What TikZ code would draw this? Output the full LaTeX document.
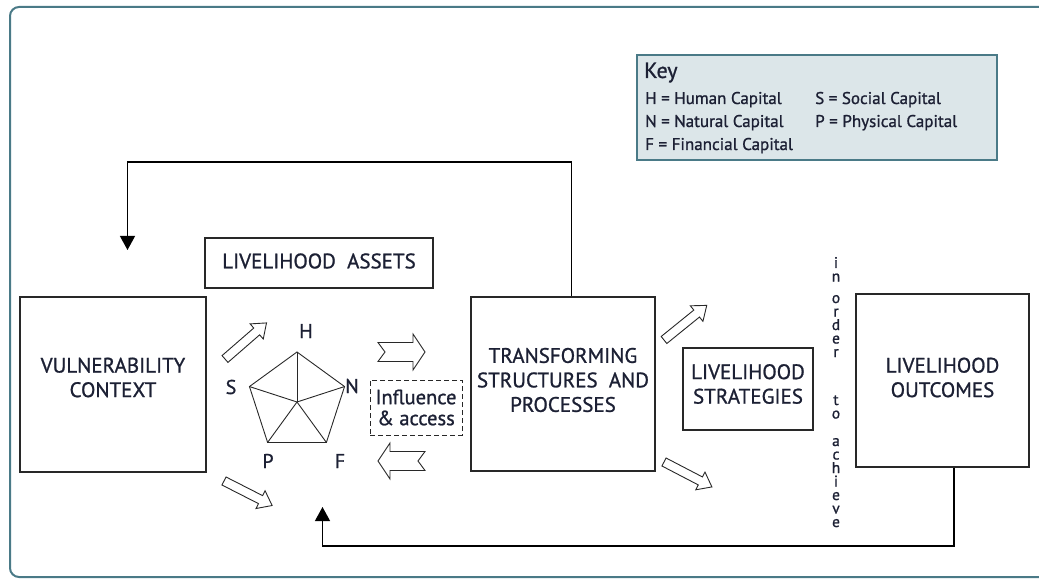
\documentclass[tikz,border=0pt]{standalone}
\usepackage{fontspec}
\setmainfont{PT Sans}[FakeBold=1.0]
\usetikzlibrary{arrows.meta,shapes.geometric}
\definecolor{frameteal}{RGB}{74,122,135}
\definecolor{keyfill}{RGB}{220,230,233}
\definecolor{ink}{RGB}{28,32,52}
\definecolor{lineink}{RGB}{40,40,40}
\newcommand{\boxfont}{\fontsize{21}{24.5}\selectfont}
\newcommand{\keyfont}{\fontsize{17}{23}\selectfont}
% hollow block arrow: tail point, angle, length
\newcommand{\hollowarrow}[3]{%
  \draw[hollow, shift={(#1)}, rotate=#2] (0,-4.5) -- (#3-13,-4.5) -- (#3-13,-10) -- (#3,0)
    -- (#3-13,10) -- (#3-13,4.5) -- (0,4.5) -- cycle;}
% block arrow with notched tail: tail point, angle
\newcommand{\notcharrow}[2]{%
  \draw[hollow, shift={(#1)}, rotate=#2] (0,-9.5) -- (35,-9.5) -- (35,-18) -- (47,0)
    -- (35,18) -- (35,9.5) -- (0,9.5) -- (7,0) -- cycle;}
\begin{document}
\begin{tikzpicture}[x=1pt, y=-1pt, >={Triangle[length=14pt,width=15pt]},
  box/.style={draw=lineink, line width=1.2pt, inner sep=0pt},
  boxlabel/.style={align=center, text=ink, font=\boxfont, inner sep=0pt},
  dashbox/.style={draw=lineink, dash pattern=on 5pt off 3pt, line width=1pt, align=center, text=ink,
    font=\fontsize{20.5}{21}\selectfont, inner sep=0pt},
  feed/.style={draw=black, line width=1.2pt},
  hollow/.style={draw=lineink, line width=0.9pt, fill=white, line join=miter},
  capital/.style={text=ink, font=\fontsize{20}{24}\selectfont, inner sep=0pt},
  keytext/.style={anchor=base west, text=ink, font=\keyfont, inner sep=0pt},
  vletter/.style={anchor=base, text=ink, font=\fontsize{15.5}{15}\selectfont, inner sep=0pt},
  pentagon/.style={regular polygon, regular polygon sides=5, minimum size=100pt,
    inner sep=0pt, outer sep=0pt, draw=lineink, line width=0.9pt}]
\useasboundingbox (0,0) rectangle (1039,580);
\clip (0,0) rectangle (1039,580);
% outer frame
\draw[frameteal, line width=2pt, rounded corners=9pt] (10,7) rectangle (1080,577);
% key
\node[draw=frameteal, fill=keyfill, line width=1.3pt, minimum width=360pt, minimum height=105pt] (keybox) at (817,107.5) {};
\node[keytext, font=\fontsize{22}{24}\selectfont] (keytitle) at (644,78) {Key};
\node[keytext] (keyH) at (645,104) {H = Human Capital};
\node[keytext] (keyN) at (645,127) {N = Natural Capital};
\node[keytext] (keyF) at (645,150) {F = Financial Capital};
\node[keytext] (keyS) at (815,104) {S = Social Capital};
\node[keytext] (keyP) at (815,127) {P = Physical Capital};
% main boxes
\node[box, minimum width=186pt, minimum height=175pt] (vuln) at (113,384.5) {};
\node[boxlabel] (vulnlabel) at ([yshift=7pt]vuln.center) {VULNERABILITY\\CONTEXT};
\node[box, minimum width=228pt, minimum height=50pt] (assets) at (319,263) {};
\node[boxlabel] (assetslabel) at ([yshift=2pt]assets.center) {LIVELIHOOD\ \ ASSETS};
\node[box, minimum width=184pt, minimum height=174pt] (trans) at (563,384) {};
\node[boxlabel] (translabel) at ([yshift=4pt]trans.center) {TRANSFORMING\\STRUCTURES\ \ AND\\PROCESSES};
\node[box, minimum width=130pt, minimum height=82pt] (strat) at (748,389) {};
\node[boxlabel] (stratlabel) at ([yshift=5pt]strat.center) {LIVELIHOOD\\STRATEGIES};
\node[box, minimum width=173pt, minimum height=173pt] (outc) at (942.5,380.5) {};
\node[boxlabel] (outclabel) at ([yshift=3pt]outc.center) {LIVELIHOOD\\OUTCOMES};
\node[dashbox, minimum width=92pt, minimum height=55pt] (infl) at (416,407.5) {Influence\\\&\ access};
% asset pentagon
\node[pentagon] (penta) at (297,402) {};
\foreach \c in {1,...,5}
  \draw[lineink, line width=0.9pt] (penta.center) -- (penta.corner \c);
\node[capital] (capH) at (306,331) {H};
\node[capital] (capS) at (231,387) {S};
\node[capital] (capN) at (352,386) {N};
\node[capital] (capP) at (268,461) {P};
\node[capital] (capF) at (340,461) {F};
% block arrows
\hollowarrow{225,359}{41}{55}
\hollowarrow{224,481}{-27}{54}
\hollowarrow{664,340}{39}{55}
\hollowarrow{664,462}{-27.5}{54}
\notcharrow{378,352}{0}
\notcharrow{425,461}{180}
% in order to achieve
\foreach \ch/\yy in {i/268, n/281.5, o/303, r/316.5, d/330, e/343.5, r/357, t/405, o/418.5,
  a/446, c/459.5, h/473, i/486.5, e/500, v/513.5, e/527}
  \node[vletter] at (836,\yy) {\ch};
% feedback loops
\coordinate (toptip) at (127.5,250);
\coordinate (topturn) at (571.7,162);
\draw[feed,->] ([xshift=8.7pt]trans.north) -- (topturn) -| (toptip);
\coordinate (bottip) at (322.5,507);
\coordinate (botturn) at (954,546);
\draw[feed,->] ([xshift=11.5pt]outc.south) -- (botturn) -| (bottip);
\end{tikzpicture}
\end{document}
